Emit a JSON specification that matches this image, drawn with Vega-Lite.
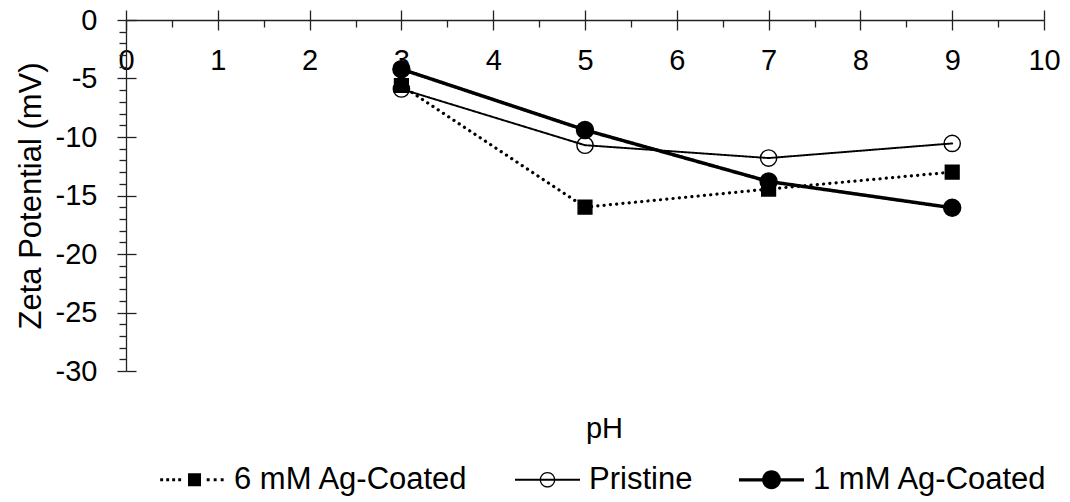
{
  "$schema": "https://vega.github.io/schema/vega-lite/v6.json",
  "autosize": {"type": "none"},
  "padding": {"left": 126, "top": 20, "right": 26, "bottom": 131},
  "width": 918,
  "height": 351,
  "background": "white",
  "data": {
    "values": [
      {"ph": 3, "zeta": -5.9, "series": "Pristine"},
      {"ph": 5, "zeta": -10.7, "series": "Pristine"},
      {"ph": 7, "zeta": -11.8, "series": "Pristine"},
      {"ph": 9, "zeta": -10.55, "series": "Pristine"},
      {"ph": 3, "zeta": -5.6, "series": "6 mM Ag-Coated"},
      {"ph": 5, "zeta": -16.0, "series": "6 mM Ag-Coated"},
      {"ph": 7, "zeta": -14.45, "series": "6 mM Ag-Coated"},
      {"ph": 9, "zeta": -13.0, "series": "6 mM Ag-Coated"},
      {"ph": 3, "zeta": -4.2, "series": "1 mM Ag-Coated"},
      {"ph": 5, "zeta": -9.4, "series": "1 mM Ag-Coated"},
      {"ph": 7, "zeta": -13.8, "series": "1 mM Ag-Coated"},
      {"ph": 9, "zeta": -16.05, "series": "1 mM Ag-Coated"}
    ]
  },
  "resolve": {"axis": {"x": "independent", "y": "independent"}, "scale": {"shape": "independent"}},
  "layer": [
    {
      "mark": {"type": "line", "strokeCap": "round", "color": "black"},
      "encoding": {
        "x": {
          "field": "ph", "type": "quantitative",
          "scale": {"domain": [0, 10], "nice": false, "zero": false},
          "axis": {
            "orient": "bottom", "offset": -351,
            "values": [0, 1, 2, 3, 4, 5, 6, 7, 8, 9, 10],
            "tickSize": 10, "labelPadding": 16, "labelFontSize": 29,
            "labelFlush": false, "labelOverlap": false, "labelBound": false,
            "title": "pH", "titleFontSize": 29, "titleFontWeight": "normal",
            "titleX": 478, "titleY": 417, "titleBaseline": "alphabetic", "titleAlign": "center", "titleAnchor": null
          }
        },
        "y": {
          "field": "zeta", "type": "quantitative",
          "scale": {"domain": [-30, 0], "nice": false, "zero": false},
          "axis": {
            "orient": "left",
            "values": [-30, -25, -20, -15, -10, -5, 0],
            "labelExpr": "'' + datum.value",
            "tickSize": 9, "labelPadding": 20, "labelFontSize": 29,
            "labelFlush": false, "labelOverlap": false, "labelBound": false,
            "title": "Zeta Potential (mV)", "titleFontSize": 31, "titleFontWeight": "normal", "titlePadding": 8
          }
        },
        "detail": {"field": "series"},
        "strokeDash": {
          "field": "series", "type": "nominal", "legend": null,
          "scale": {"domain": ["6 mM Ag-Coated", "Pristine", "1 mM Ag-Coated"], "range": [[0.1, 6.2], [1, 0], [1, 0]]}
        },
        "strokeWidth": {
          "field": "series", "type": "nominal", "legend": null,
          "scale": {"type": "ordinal", "domain": ["6 mM Ag-Coated", "Pristine", "1 mM Ag-Coated"], "range": [3.2, 1.9, 3.5]}
        }
      }
    },
    {
      "mark": {"type": "point", "filled": false, "stroke": "black", "strokeWidth": 1.4, "opacity": 1},
      "encoding": {
        "x": {
          "field": "ph", "type": "quantitative",
          "axis": {"orient": "top", "values": [0, 1, 2, 3, 4, 5, 6, 7, 8, 9, 10], "tickSize": 10, "labels": false, "domain": false, "title": null}
        },
        "y": {
          "field": "zeta", "type": "quantitative",
          "axis": {"orient": "right", "offset": -918, "values": [-30, -25, -20, -15, -10, -5, 0], "tickSize": 10, "labels": false, "domain": false, "title": null}
        },
        "shape": {
          "field": "series", "type": "nominal", "legend": null,
          "scale": {"domain": ["6 mM Ag-Coated", "Pristine", "1 mM Ag-Coated"], "range": ["square", "circle", "circle"]}
        },
        "fill": {
          "field": "series", "type": "nominal", "legend": null,
          "scale": {"domain": ["6 mM Ag-Coated", "Pristine", "1 mM Ag-Coated"], "range": ["black", "transparent", "black"]}
        },
        "size": {
          "field": "series", "type": "nominal", "legend": null,
          "scale": {"type": "ordinal", "domain": ["6 mM Ag-Coated", "Pristine", "1 mM Ag-Coated"], "range": [190, 265, 290]}
        }
      }
    },
    {
      "transform": [{"filter": "datum.zeta > 100"}],
      "mark": {"type": "point", "filled": true, "fill": "black", "strokeWidth": 0, "size": 4225},
      "encoding": {
        "x": {
          "field": "ph", "type": "quantitative",
          "axis": {"orient": "bottom", "offset": -351, "values": [0.5, 1.5, 2.5, 3.5, 4.5, 5.5, 6.5, 7.5, 8.5, 9.5], "tickSize": 7, "labels": false, "domain": false, "title": null}
        },
        "y": {
          "field": "zeta", "type": "quantitative",
          "axis": {"orient": "left", "values": [-29, -28, -27, -26, -24, -23, -22, -21, -19, -18, -17, -16, -14, -13, -12, -11, -9, -8, -7, -6, -4, -3, -2, -1], "tickSize": 7, "labels": false, "domain": false, "title": null}
        },
        "shape": {
          "field": "series", "type": "nominal",
          "scale": {
            "domain": ["6 mM Ag-Coated", "Pristine", "1 mM Ag-Coated"],
            "range": [
              "M-0.994 -0.045H-0.904V0.045H-0.994Z M-0.809 -0.045H-0.719V0.045H-0.809Z M-0.625 -0.045H-0.535V0.045H-0.625Z M-0.44 -0.045H-0.35V0.045H-0.44Z M-0.138 -0.2H0.262V0.2H-0.138Z M0.437 -0.045H0.527V0.045H0.437Z M0.652 -0.045H0.742V0.045H0.652Z M0.868 -0.045H0.958V0.045H0.868Z",
              "M-1 -0.03H1V0.03H-1Z M-0.24 0A0.24 0.24 0 1 1 0.24 0A0.24 0.24 0 1 1 -0.24 0Z M-0.2 0A0.2 0.2 0 1 0 0.2 0A0.2 0.2 0 1 0 -0.2 0Z",
              "M-1 -0.05H1V0.05H-1Z M-0.29 0A0.29 0.29 0 1 1 0.29 0A0.29 0.29 0 1 1 -0.29 0Z"
            ]
          },
          "legend": {
            "orient": "none", "direction": "horizontal", "legendX": 34, "legendY": 427,
            "title": null, "padding": 0, "labelFontSize": 31, "labelFont": "Liberation Sans", "labelColor": "black",
            "labelOffset": 9, "columnPadding": 46, "labelLimit": 0,
            "symbolSize": 4225, "symbolFillColor": "black", "symbolStrokeWidth": 0, "symbolOpacity": 1
          }
        }
      }
    }
  ],
  "config": {
    "view": {"stroke": null},
    "font": "Liberation Sans",
    "axis": {
      "grid": false,
      "domainColor": "#222222", "domainWidth": 1.3,
      "tickColor": "#222222", "tickWidth": 1.3,
      "labelColor": "black", "titleColor": "black",
      "labelFont": "Liberation Sans", "titleFont": "Liberation Sans"
    }
  }
}
